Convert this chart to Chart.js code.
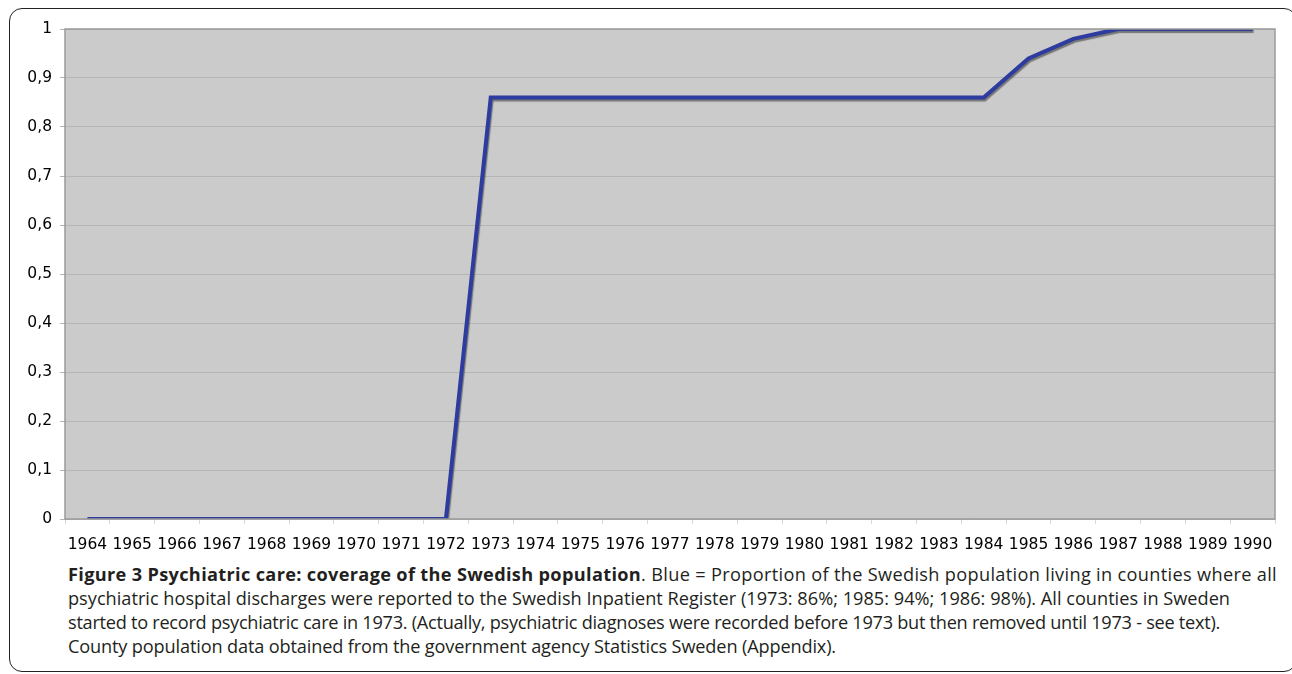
<!DOCTYPE html>
<html>
<head>
<meta charset="utf-8">
<script src="https://cdn.jsdelivr.net/npm/chart.js@4.4.1/dist/chart.umd.min.js"></script>
<style>
  html, body { margin:0; padding:0; background:#fff; width:1292px; height:674px; overflow:hidden; }
  #frame { position:absolute; left:9px; top:8px; width:1286px; height:662px; border:1.5px solid #222; border-radius:13px; }
  #wrap { position:absolute; left:0; top:0; width:1292px; height:560px; }
  #caption { position:absolute; left:68px; top:562px; width:1220px; color:#231f20; font-family:"Open Sans", sans-serif; }
  #caption div { white-space:nowrap; height:24px; line-height:24px; }
</style>
</head>
<body>
<div id="frame"></div>
<div id="wrap"><canvas id="c" width="1292" height="560"></canvas></div>
<div id="caption">
  <div data-w="1209"><b>Figure 3 Psychiatric care: coverage of the Swedish population</b>. Blue = Proportion of the Swedish population living in counties where all</div>
  <div data-w="1162" id="ref">psychiatric hospital discharges were reported to the Swedish Inpatient Register (1973: 86%; 1985: 94%; 1986: 98%). All counties in Sweden</div>
  <div data-w="1152">started to record psychiatric care in 1973. (Actually, psychiatric diagnoses were recorded before 1973 but then removed until 1973 - see text).</div>
  <div data-w="768">County population data obtained from the government agency Statistics Sweden (Appendix).</div>
</div>
<script>
const years = ['1964','1965','1966','1967','1968','1969','1970','1971','1972','1973','1974','1975','1976','1977','1978','1979','1980','1981','1982','1983','1984','1985','1986','1987','1988','1989','1990'];
const coverage = [0,0,0,0,0,0,0,0,0,0.86,0.86,0.86,0.86,0.86,0.86,0.86,0.86,0.86,0.86,0.86,0.86,0.94,0.98,1,1,1,1];
const yTicks = [0,0.1,0.2,0.3,0.4,0.5,0.6,0.7,0.8,0.9,1];

// fit caption font size and per-line spacing
(function(){
  const cap = document.getElementById('caption');
  const ref = document.getElementById('ref');
  function width(el){ const r = document.createRange(); r.selectNodeContents(el); return r.getBoundingClientRect().width; }
  cap.style.fontSize = '100px';
  const tw = width(ref);
  cap.style.fontSize = (100 * 1162 / tw) + 'px';
  cap.querySelectorAll('div').forEach(d => {
    const target = +d.dataset.w;
    const w = width(d);
    const n = d.textContent.length;
    d.style.letterSpacing = ((target - w) / n) + 'px';
  });
})();

const bgPlugin = {
  id:'bg',
  beforeDraw(chart){
    const {ctx, chartArea:a} = chart;
    ctx.save();
    ctx.fillStyle = '#cbcbcb';
    ctx.fillRect(a.left, a.top, a.right-a.left, a.bottom-a.top);
    ctx.restore();
  },
  afterDraw(chart){
    const {ctx, chartArea:a} = chart;
    ctx.save();
    ctx.strokeStyle = '#9a9a9a';
    ctx.lineWidth = 1.5;
    ctx.strokeRect(a.left, a.top, a.right-a.left, a.bottom-a.top);
    ctx.restore();
  },
  beforeDatasetDraw(chart){
    const ctx = chart.ctx;
    ctx.save();
    ctx.shadowColor = 'rgba(60,60,60,0.6)';
    ctx.shadowOffsetX = 1;
    ctx.shadowOffsetY = 2;
    ctx.shadowBlur = 1;
  },
  afterDatasetDraw(chart){
    chart.ctx.restore();
  }
};

new Chart(document.getElementById('c'), {
  type:'line',
  data:{ labels: years, datasets:[{ data: coverage, borderColor:'#2d3c9e', borderWidth:4, pointRadius:0, tension:0, fill:false }]},
  options:{
    responsive:false, animation:false,
    layout:{ padding:{ left:0, top:29, right:17, bottom:0 } },
    plugins:{ legend:{display:false}, tooltip:{enabled:false} },
    scales:{
      x:{
        offset:true,
        grid:{ display:true, drawOnChartArea:false, drawTicks:true, tickLength:5, color:'#d8d8d8', offset:true },
        border:{ display:false },
        ticks:{ font:{ family:'"DejaVu Sans"', size:15.5 }, color:'#000', maxRotation:0, autoSkip:false, padding:12 },
        afterFit(s){ s.height = 41; }
      },
      y:{
        min:0, max:1,
        afterBuildTicks(s){ s.ticks = yTicks.map(v=>({value:v})); },
        grid:{ color:'#b5b5b5', tickLength:5, lineWidth:1 },
        border:{ display:false },
        ticks:{ font:{ family:'"DejaVu Sans"', size:15.5 }, color:'#000', padding:8,
          callback:(v)=> String(Math.round(v*10)/10).replace('.', ',') },
        afterFit(s){ s.width = 65; }
      }
    }
  },
  plugins:[bgPlugin]
});
</script>
</body>
</html>
